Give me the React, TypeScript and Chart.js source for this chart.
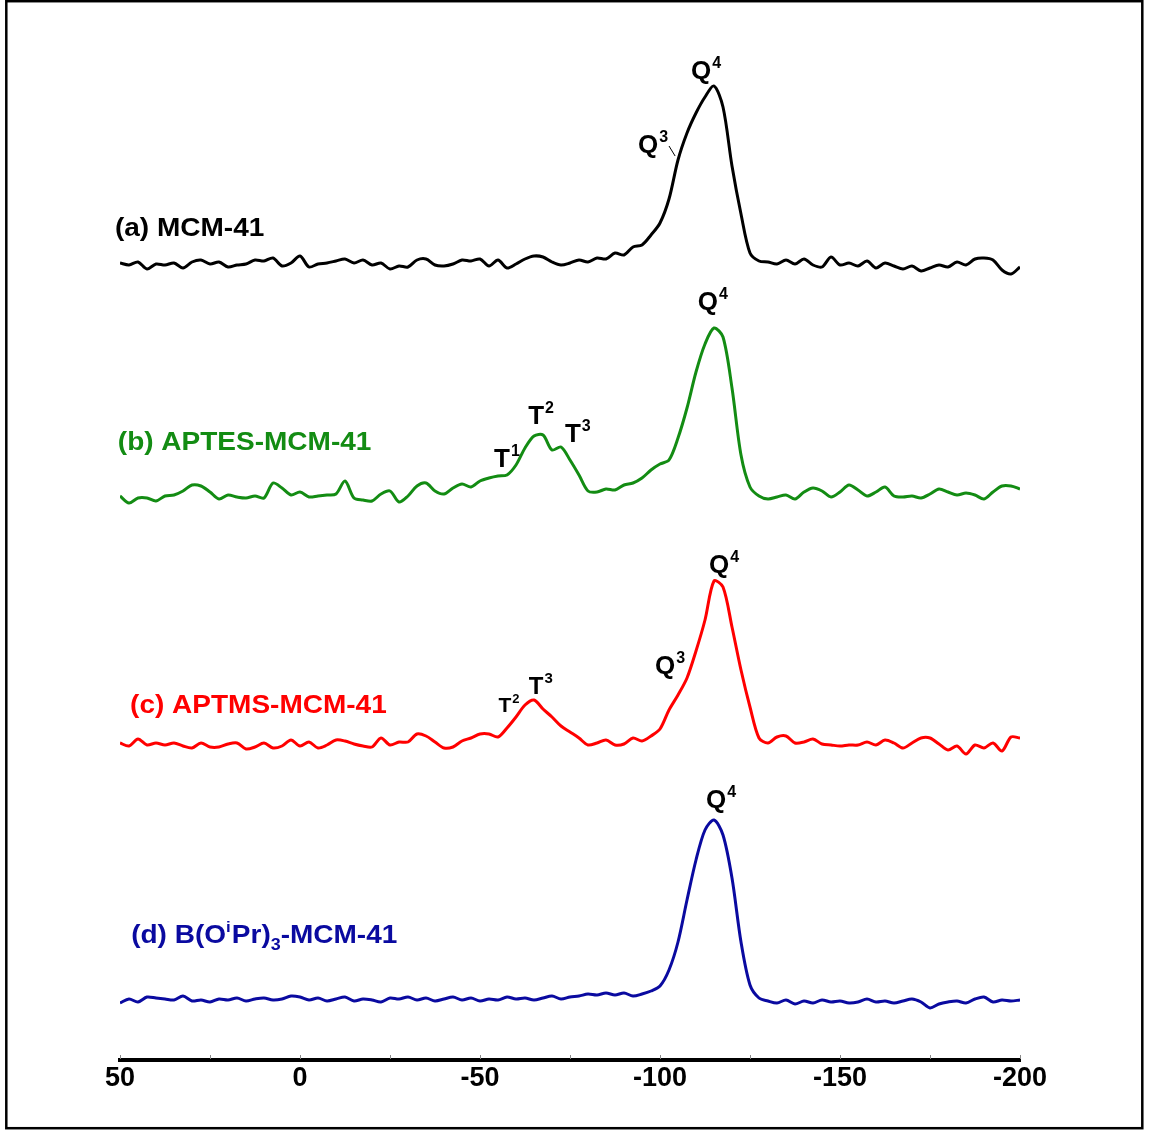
import React, { useEffect, useRef } from "react";
import { Chart, registerables } from "chart.js";

Chart.register(...registerables);

// chemical shift (ppm), evenly spaced
const PPM = [
  50, 47.5, 45, 42.5, 40, 37.5, 35, 32.5, 30, 27.5, 25, 22.5, 20, 17.5, 15, 12.5, 10, 7.5, 5, 2.5,
  0, -2.5, -5, -7.5, -10, -12.5, -15, -17.5, -20, -22.5, -25, -27.5, -30, -32.5, -35, -37.5, -40, -42.5, -45, -47.5,
  -50, -52.5, -55, -57.5, -60, -62.5, -65, -67.5, -70, -72.5, -75, -77.5, -80, -82.5, -85, -87.5, -90, -92.5, -95, -97.5,
  -100, -102.5, -105, -107.5, -110, -112.5, -115, -117.5, -120, -122.5, -125, -127.5, -130, -132.5, -135, -137.5, -140, -142.5, -145, -147.5,
  -150, -152.5, -155, -157.5, -160, -162.5, -165, -167.5, -170, -172.5, -175, -177.5, -180, -182.5, -185, -187.5, -190, -192.5, -195, -197.5,
  -200,
];

// (a) MCM-41
const MCM41 = [
  2, 0, 3, -4, 1, 0, 2, -3, 3, 5, 1, 3, -2, 0, 1, 5, 4, 7, -1, 2,
  9, -2, 1, 2, 4, 6, 2, 5, 0, 2, -4, -1, -2, 5, 6, 0, -1, 1, 5, 4,
  6, -1, 5, -3, 1, 6, 9, 8, 3, 0, 2, 5, 3, 7, 6, 12, 10, 18, 20, 30,
  42, 66, 105, 132, 152, 168, 179, 158, 99, 51, 12, 4, 3, 1, 5, 1, 6, 0, -2, 8,
  0, 2, -1, 4, -3, 2, -1, -4, -1, -6, -3, 0, -2, 3, 0, 6, 7, 5, -5, -9,
  -2,
];

// (b) APTES-MCM-41
const APTES = [
  4, -3, 2, 2, -1, 4, 5, 9, 15, 14, 8, 1, 5, 3, 2, 4, 2, 17, 12, 5,
  8, 3, 4, 5, 6, 19, 2, 0, -1, 6, 9, -2, 4, 14, 17, 9, 6, 12, 16, 13,
  19, 22, 24, 25, 35, 52, 64, 65, 50, 53, 40, 25, 9, 8, 11, 10, 15, 17, 22, 30,
  36, 40, 62, 92, 128, 156, 172, 163, 112, 45, 13, 4, 1, 3, 5, 1, 8, 12, 9, 3,
  8, 15, 10, 4, 8, 13, 4, 3, 4, 2, 6, 11, 8, 5, 7, 5, 1, 8, 14, 14,
  11,
];

// (c) APTMS-MCM-41
const APTMS = [
  2, -1, 6, 0, 2, 0, 2, -1, -3, 2, -2, -2, 1, 2, -4, -2, 2, -3, -1, 5,
  -1, 3, -3, 0, 5, 4, 1, -1, -2, 7, 0, 3, 3, 11, 9, 3, -3, -2, 4, 7,
  11, 11, 8, 17, 28, 40, 45, 36, 28, 19, 13, 7, 0, 2, 5, 0, 1, 7, 4, 9,
  16, 35, 50, 67, 94, 125, 164, 158, 118, 75, 38, 7, 2, 8, 9, 2, 3, 6, 1, 0,
  -1, 0, 0, 3, 0, 5, 2, -3, 2, 7, 7, 1, -5, -1, -9, 0, -3, 2, -6, 8,
  7,
];

// (d) B(OiPr)3-MCM-41
const BORATE = [
  -3, 1, -2, 3, 2, 1, 0, 4, -1, 0, -2, 1, 0, 2, -1, 1, 2, 0, 1, 4,
  3, 0, 2, -1, 1, 3, -1, 1, 0, -2, 2, 1, 3, 0, 2, -1, 1, 3, 0, 2,
  -1, 1, 0, 3, 1, 2, 0, 2, 4, 1, 3, 4, 6, 5, 7, 5, 7, 4, 6, 9,
  14, 30, 58, 100, 140, 170, 180, 165, 122, 58, 15, 2, -1, -3, 0, -4, -1, -3, 0, -2,
  -1, -3, -2, 1, -2, -1, -3, -1, 1, -2, -8, -4, -2, -1, -3, 1, 3, -2, 0, -1,
  0,
];

const SERIES_NAMES = ["(a) MCM-41", "(b) APTES-MCM-41", "(c) APTMS-MCM-41", "(d) B(OiPr)3-MCM-41"];
const SERIES_VALUES = [MCM41, APTES, APTMS, BORATE];
const SERIES_OFFSETS = [795, 560, 315, 60];
const SERIES_COLORS = ["#000000", "#138c13", "#ff0000", "#0a0aa0"];

const X_TICKS = [50, 0, -50, -100, -150, -200];
const X_MINOR = [25, -25, -75, -125, -175];

// peak annotations: main letter, superscript, position (ppm, stacked height), size
const PEAK_TEXT = ["Q", "Q", "Q", "T", "T", "T", "Q", "Q", "T", "T", "Q"];
const PEAK_SUP = ["4", "3", "4", "1", "2", "3", "4", "3", "2", "3", "4"];
const PEAK_X = [-111.4, -96.7, -113.3, -56.1, -65.6, -75.8, -116.4, -101.4, -56.9, -65.6, -115.6];
const PEAK_Y = [988, 914, 757, 600, 643, 625, 494, 393, 354, 373, 259];
const PEAK_SIZE = [26, 26, 26, 26, 26, 26, 26, 26, 21, 24, 26];

// series label anchors (left edge, middle)
const LABEL_X = [51.4, 50.6, 47.2, 46.9];
const LABEL_Y = [831, 617, 354, 124];

const FONT = "'Liberation Sans', Arial, sans-serif";

const overlay = {
  id: "overlay",
  afterDraw(chart: any) {
    const ctx = chart.ctx;
    const xs = chart.scales.x;
    const ys = chart.scales.y;
    ctx.save();

    // outer frame
    ctx.strokeStyle = "#000";
    ctx.lineWidth = 2.5;
    ctx.strokeRect(6.3, 1.2, 1136, 1127);

    // minor ticks on axis
    ctx.strokeStyle = "#888";
    ctx.lineWidth = 1;
    const yb = chart.chartArea.bottom;
    [...X_MINOR, ...X_TICKS].forEach((v) => {
      const px = Math.round(xs.getPixelForValue(v)) + 0.5;
      ctx.beginPath();
      ctx.moveTo(px, yb - 5);
      ctx.lineTo(px, yb - 1);
      ctx.stroke();
    });

    // peak labels
    ctx.fillStyle = "#000";
    ctx.textBaseline = "middle";
    for (let i = 0; i < PEAK_TEXT.length; i++) {
      const px = xs.getPixelForValue(PEAK_X[i]);
      const py = ys.getPixelForValue(PEAK_Y[i]);
      const s = PEAK_SIZE[i];
      ctx.font = `bold ${s}px ${FONT}`;
      ctx.textAlign = "center";
      const w = ctx.measureText(PEAK_TEXT[i]).width;
      ctx.fillText(PEAK_TEXT[i], px, py);
      ctx.font = `bold ${Math.round(s * 0.62)}px ${FONT}`;
      ctx.textAlign = "left";
      ctx.fillText(PEAK_SUP[i], px + w / 2 + 1, py - s * 0.33);
    }
    // leader line for Q3 of (a)
    ctx.strokeStyle = "#000";
    ctx.lineWidth = 1;
    ctx.beginPath();
    ctx.moveTo(xs.getPixelForValue(-102.5), ys.getPixelForValue(914));
    ctx.lineTo(xs.getPixelForValue(-104.2), ys.getPixelForValue(904));
    ctx.stroke();

    // series labels (slightly wide bold face)
    for (let i = 0; i < SERIES_NAMES.length; i++) {
      const px = xs.getPixelForValue(LABEL_X[i]);
      const py = ys.getPixelForValue(LABEL_Y[i]);
      ctx.save();
      ctx.translate(px, py);
      ctx.scale(1.12, 1);
      ctx.fillStyle = SERIES_COLORS[i];
      ctx.textAlign = "left";
      ctx.textBaseline = "middle";
      const big = `bold 25px ${FONT}`;
      const small = `bold 15px ${FONT}`;
      if (i === 3) {
        let x = 0;
        const parts: [string, string, number][] = [
          ["(d) B(O", big, 0],
          ["i", small, -8],
          ["Pr)", big, 0],
          ["3", `bold 16px ${FONT}`, 10],
          ["-MCM-41", big, 0],
        ];
        parts.forEach(([t, f, dy]) => {
          ctx.font = f;
          ctx.fillText(t, x, dy);
          x += ctx.measureText(t).width + (f === small ? 1 : 0);
        });
      } else {
        ctx.font = big;
        ctx.fillText(SERIES_NAMES[i], 0, 0);
      }
      ctx.restore();
    }
    ctx.restore();
  },
};

export default function App() {
  const ref = useRef<HTMLCanvasElement>(null);
  useEffect(() => {
    if (!ref.current) return;
    const datasets = SERIES_VALUES.map((vals, k) => ({
      label: SERIES_NAMES[k],
      data: PPM.map((x, i) => ({ x, y: SERIES_OFFSETS[k] + vals[i] })),
      borderColor: SERIES_COLORS[k],
      borderWidth: 3,
      pointRadius: 0,
      tension: 0.3,
      fill: false,
    }));
    const chart = new Chart(ref.current, {
      type: "line",
      data: { datasets },
      options: {
        animation: false,
        responsive: false,
        events: [],
        layout: { padding: { left: 120, right: 136, top: 0, bottom: 0 } },
        plugins: { legend: { display: false }, tooltip: { enabled: false } },
        scales: {
          x: {
            type: "linear",
            reverse: true,
            min: -200,
            max: 50,
            afterFit: (s: any) => {
              s.height = 71;
            },
            afterBuildTicks: (s: any) => {
              s.ticks = X_TICKS.map((v) => ({ value: v }));
            },
            grid: { display: false, drawTicks: false },
            border: { display: true, color: "#000", width: 4 },
            ticks: {
              color: "#000",
              padding: 2,
              maxRotation: 0,
              autoSkip: false,
              font: { family: FONT, size: 27, weight: "bold" },
              callback: (v: any) => String(v),
            },
          },
          y: { display: false, min: 0, max: 1060 },
        },
      },
      plugins: [overlay],
    });
    return () => chart.destroy();
  }, []);
  return (
    <div style={{ position: "absolute", left: 0, top: 0, width: 1156, height: 1131, background: "#fff" }}>
      <canvas ref={ref} width={1156} height={1131} style={{ display: "block" }} />
    </div>
  );
}
